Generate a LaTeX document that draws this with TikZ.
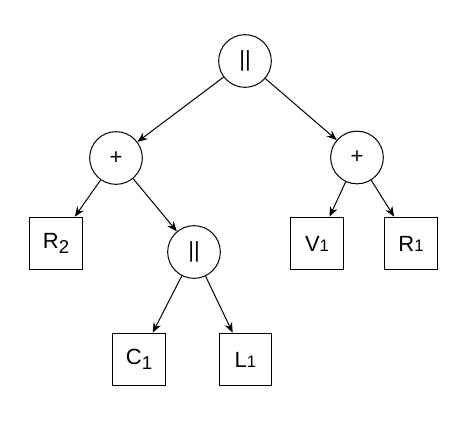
\documentclass[tikz,border=0pt]{standalone}
\usepackage{fontspec}
\setmainfont{Liberation Sans}
\usetikzlibrary{arrows.meta}
\tikzset{every picture/.style={line width=0.75pt}}
\newcommand{\lowsub}[1]{\raisebox{-3.5pt}{\fontsize{14}{14}\selectfont #1}}
\newcommand{\smalldigit}[1]{{\fontsize{12.5}{14}\selectfont #1}}

\begin{document}
\begin{tikzpicture}[x=0.75pt,y=0.75pt,yscale=-1,xscale=1,
	opnode/.style={draw,circle,minimum size=39.5pt,inner sep=0pt,font=\fontsize{16.5}{17}\selectfont},
	leafbox/.style={draw,rectangle,minimum size=39.5pt,inner sep=0pt,font=\fontsize{16.5}{17}\selectfont},
	branch/.style={-{Stealth[length=7.5pt,width=6pt]}}]
	%set diagram size 475 x 430
	\path[use as bounding box] (0,0) rectangle (475,430);
	
	%Operators
	\node[opnode] (root) at (245,61) {||};
	\node[opnode] (plusL) at (116,158) {+};
	\node[opnode] (plusR) at (357,157.5) {+};
	\node[opnode] (par) at (194,252) {||};
	
	%Components
	\node[leafbox] (R2) at (56,243.5) {R\lowsub{2}};
	\node[leafbox] (V1) at (317,243.5) {V\smalldigit{1}};
	\node[leafbox] (R1) at (411,243.5) {R\smalldigit{1}};
	\node[leafbox] (C1) at (139,359.5) {C\lowsub{1}};
	\node[leafbox] (L1) at (245.5,359.5) {L\smalldigit{1}};
	
	%Branches
	\draw[branch] (root) -- (plusL);
	\draw[branch] (root) -- (plusR);
	\draw[branch] (plusL) -- (R2);
	\draw[branch] (plusL) -- (par);
	\draw[branch] (plusR) -- (V1);
	\draw[branch] (plusR) -- (R1);
	\draw[branch] (par) -- (C1);
	\draw[branch] (par) -- (L1);
\end{tikzpicture}
\end{document}
